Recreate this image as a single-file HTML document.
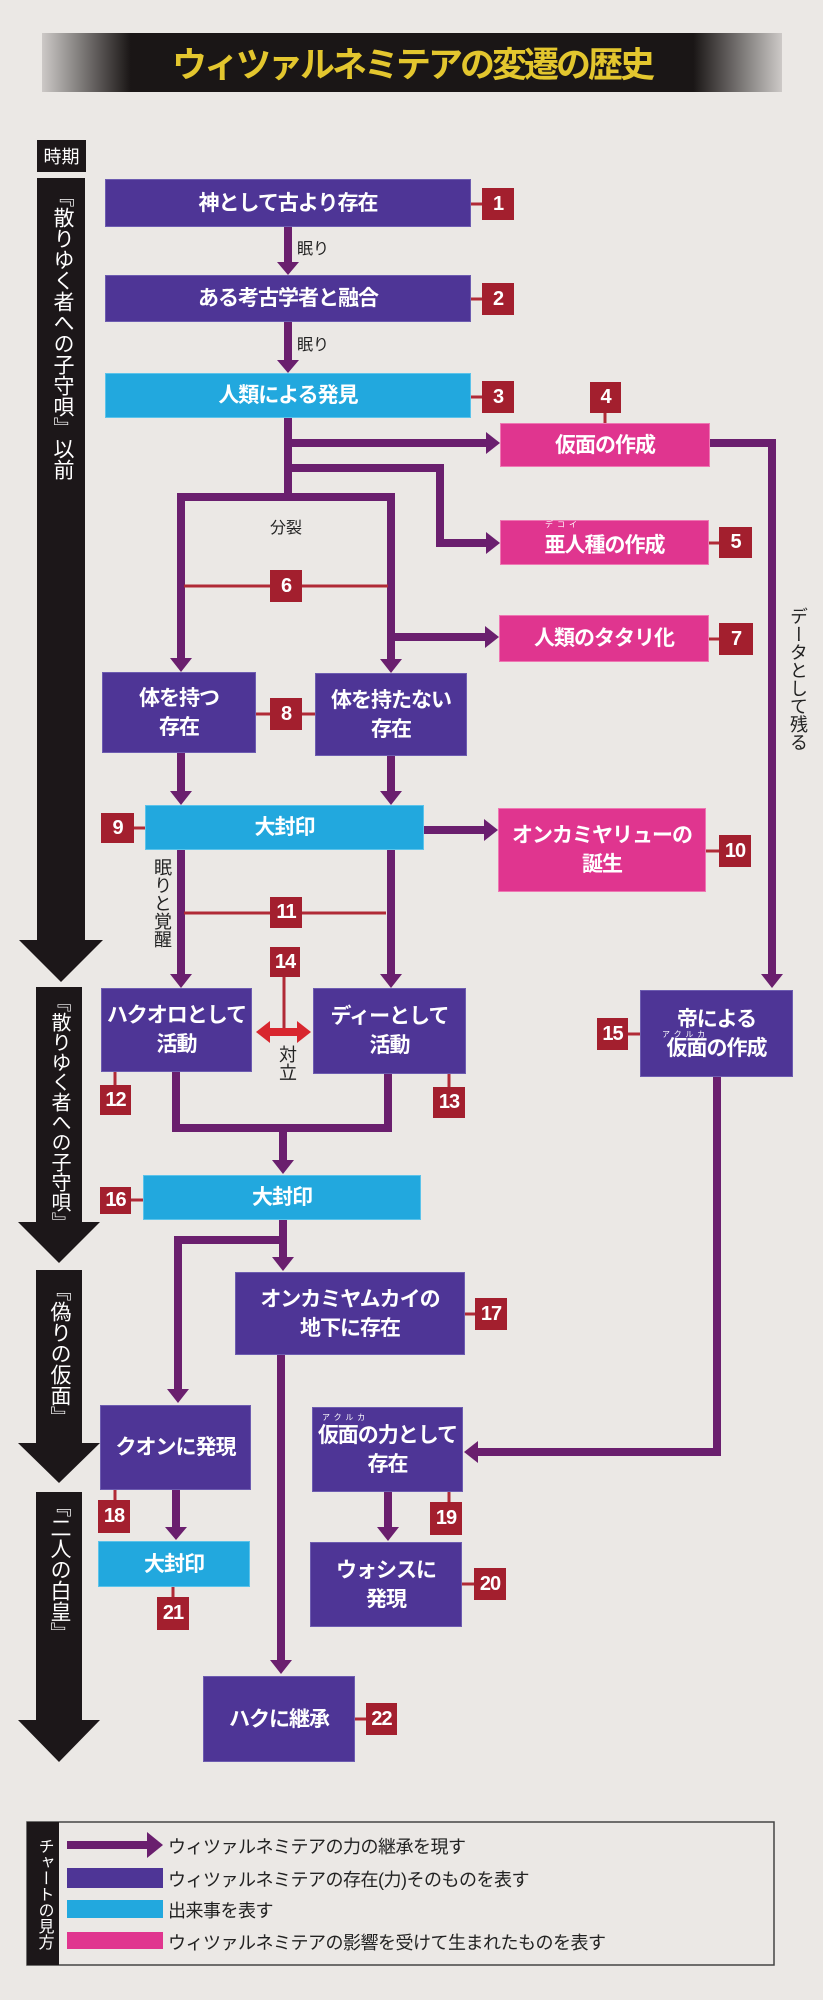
<!DOCTYPE html>
<html><head><meta charset="utf-8"><style>
body{margin:0;}
#p{position:relative;width:823px;height:2000px;background:#ebe8e5;overflow:hidden;font-family:"Liberation Sans","Noto Sans CJK JP",sans-serif;}
.b{position:absolute;display:flex;align-items:center;justify-content:center;text-align:center;color:#fff;font-weight:bold;font-size:21px;line-height:29px;letter-spacing:-1px;box-sizing:border-box;}
.pu{background:#4e3596;border:1px solid #6d5cb0;}
.cy{background:#22a8de;border:1px solid #5cc3ea;}
.pk{background:#e0358f;border:1px solid #ee77b3;}
.n{position:absolute;background:#a31f2e;color:#fff;font-weight:bold;font-size:20px;display:flex;align-items:center;justify-content:center;letter-spacing:-1px;}
.lab{position:absolute;color:#222;font-size:16px;}
.vt{writing-mode:vertical-rl;}
.bar{position:absolute;background:#1c1719;}
.bt{position:absolute;color:#fff;font-size:21px;writing-mode:vertical-rl;white-space:nowrap;line-height:46px;}
.rb{position:absolute;font-size:8px;color:#fff;letter-spacing:4px;}
</style></head><body><div id="p">
<div style="position:absolute;left:42px;top:33px;width:740px;height:59px;background:linear-gradient(90deg,rgba(30,25,25,0.15),#1a1616 12%,#1a1616 88%,rgba(30,25,25,0.15));"></div>
<div style="position:absolute;left:42px;top:33px;width:740px;height:59px;display:flex;align-items:center;justify-content:center;color:#e3c62e;font-size:35px;font-weight:bold;letter-spacing:-3px;">ウィツァルネミテアの変遷の歴史</div>

<div style="position:absolute;left:37px;top:140px;width:49px;height:32px;background:#1c1719;color:#fff;font-size:18px;display:flex;align-items:center;justify-content:center;">時期</div>

<div class="bar" style="left:37px;top:178px;width:48px;height:762px;"></div>
<div class="bar" style="left:36px;top:987px;width:46px;height:235px;"></div>
<div class="bar" style="left:36px;top:1270px;width:46px;height:173px;"></div>
<div class="bar" style="left:36px;top:1492px;width:46px;height:228px;"></div>

<svg style="position:absolute;left:0;top:0" width="823" height="2000">
<g fill="#1c1719">
<polygon points="19,940 103,940 61,982"/>
<polygon points="18,1222 100,1222 59,1263"/>
<polygon points="18,1443 100,1443 59,1483"/>
<polygon points="18,1720 100,1720 59,1762"/>
</g>
<g stroke="#6a1f6e" stroke-width="8" fill="none">
<line x1="288" y1="227" x2="288" y2="263"/>
<line x1="288" y1="322" x2="288" y2="361"/>
<line x1="288" y1="418" x2="288" y2="501"/>
<line x1="288" y1="443" x2="488" y2="443"/>
<polyline points="288,468 440,468 440,543 488,543"/>
<line x1="177" y1="497" x2="395" y2="497"/>
<line x1="181" y1="497" x2="181" y2="660"/>
<line x1="391" y1="497" x2="391" y2="661"/>
<line x1="391" y1="637" x2="487" y2="637"/>
<polyline points="710,443 772,443 772,976"/>
<line x1="181" y1="753" x2="181" y2="793"/>
<line x1="391" y1="756" x2="391" y2="793"/>
<line x1="424" y1="830" x2="486" y2="830"/>
<line x1="181" y1="850" x2="181" y2="976"/>
<line x1="391" y1="850" x2="391" y2="976"/>
<polyline points="176,1072 176,1128 388,1128 388,1074"/>
<line x1="283" y1="1128" x2="283" y2="1162"/>
<line x1="283" y1="1220" x2="283" y2="1259"/>
<polyline points="283,1240 178,1240 178,1391"/>
<polyline points="717,1077 717,1452 476,1452"/>
<line x1="281" y1="1355" x2="281" y2="1662"/>
<line x1="176" y1="1490" x2="176" y2="1529"/>
<line x1="388" y1="1492" x2="388" y2="1529"/>
</g>
<g fill="#6a1f6e">
<polygon points="277,262 299,262 288,275"/>
<polygon points="277,360 299,360 288,373"/>
<polygon points="486,432 500,443 486,454"/>
<polygon points="486,532 500,543 486,554"/>
<polygon points="170,658 192,658 181,672"/>
<polygon points="380,659 402,659 391,673"/>
<polygon points="485,626 499,637 485,648"/>
<polygon points="761,974 783,974 772,988"/>
<polygon points="170,791 192,791 181,805"/>
<polygon points="380,791 402,791 391,805"/>
<polygon points="484,819 498,830 484,841"/>
<polygon points="170,974 192,974 181,988"/>
<polygon points="380,974 402,974 391,988"/>
<polygon points="272,1160 294,1160 283,1174"/>
<polygon points="272,1257 294,1257 283,1271"/>
<polygon points="167,1389 189,1389 178,1403"/>
<polygon points="478,1441 464,1452 478,1463"/>
<polygon points="270,1660 292,1660 281,1674"/>
<polygon points="165,1527 187,1527 176,1540"/>
<polygon points="377,1527 399,1527 388,1541"/>
</g>
<g stroke="#b02a36" stroke-width="3" fill="none">
<line x1="184" y1="586" x2="388" y2="586"/>
<line x1="184" y1="913" x2="386" y2="913"/>
<line x1="284" y1="977" x2="284" y2="1032"/>
<line x1="471" y1="204" x2="482" y2="204"/>
<line x1="471" y1="299" x2="482" y2="299"/>
<line x1="471" y1="397" x2="482" y2="397"/>
<line x1="605" y1="413" x2="605" y2="423"/>
<line x1="709" y1="543" x2="719" y2="543"/>
<line x1="709" y1="639" x2="719" y2="639"/>
<line x1="256" y1="714" x2="315" y2="714"/>
<line x1="134" y1="828" x2="145" y2="828"/>
<line x1="706" y1="851" x2="719" y2="851"/>
<line x1="115" y1="1072" x2="115" y2="1085"/>
<line x1="449" y1="1074" x2="449" y2="1087"/>
<line x1="628" y1="1034" x2="640" y2="1034"/>
<line x1="131" y1="1200" x2="143" y2="1200"/>
<line x1="465" y1="1314" x2="475" y2="1314"/>
<line x1="115" y1="1490" x2="115" y2="1500"/>
<line x1="449" y1="1492" x2="449" y2="1502"/>
<line x1="173" y1="1587" x2="173" y2="1597"/>
<line x1="462" y1="1584" x2="474" y2="1584"/>
<line x1="355" y1="1719" x2="366" y2="1719"/>
</g>
<g fill="#d8262e">
<rect x="268" y="1028" width="31" height="8"/>
<polygon points="256,1032 270,1021 270,1043"/>
<polygon points="311,1032 297,1021 297,1043"/>
</g>
<g stroke="#444" stroke-width="1.5" fill="none"><rect x="27" y="1822" width="747" height="143"/></g>
<rect x="27" y="1822" width="32" height="143" fill="#1c1719"/>
<rect x="67" y="1841" width="82" height="8" fill="#6a1f6e"/>
<polygon points="147,1832 163,1845 147,1858" fill="#6a1f6e"/>
<rect x="67" y="1868" width="96" height="20" fill="#4e3596"/>
<rect x="67" y="1900" width="96" height="18" fill="#22a8de"/>
<rect x="67" y="1932" width="96" height="17" fill="#e0358f"/>
</svg>

<div class="bt" style="left:37px;top:186px;width:48px;">『散りゆく者への子守唄』以前</div>
<div class="bt" style="left:36px;top:992px;width:46px;font-size:20px;">『散りゆく者への子守唄』</div>
<div class="bt" style="left:36px;top:1280px;width:46px;">『偽りの仮面』</div>
<div class="bt" style="left:36px;top:1496px;width:46px;">『二人の白皇』</div>

<div class="b pu" style="left:105px;top:179px;width:366px;height:48px;">神として古より存在</div>
<div class="n" style="left:482px;top:188px;width:32px;height:32px;">1</div>
<div class="lab" style="left:297px;top:235px;">眠り</div>
<div class="b pu" style="left:105px;top:275px;width:366px;height:47px;">ある考古学者と融合</div>
<div class="n" style="left:482px;top:283px;width:32px;height:32px;">2</div>
<div class="lab" style="left:297px;top:331px;">眠り</div>
<div class="b cy" style="left:105px;top:373px;width:366px;height:45px;">人類による発見</div>
<div class="n" style="left:482px;top:381px;width:32px;height:32px;">3</div>
<div class="n" style="left:590px;top:382px;width:31px;height:31px;">4</div>
<div class="b pk" style="left:500px;top:423px;width:210px;height:44px;">仮面の作成</div>
<div class="lab" style="left:270px;top:514px;">分裂</div>
<div class="b pk" style="left:500px;top:520px;width:209px;height:45px;padding-top:6px;">亜人種の作成</div>
<div class="rb" style="left:545px;top:519px;">デコイ</div>
<div class="n" style="left:719px;top:527px;width:33px;height:31px;">5</div>
<div class="n" style="left:270px;top:570px;width:32px;height:32px;">6</div>
<div class="b pk" style="left:499px;top:615px;width:210px;height:47px;">人類のタタリ化</div>
<div class="n" style="left:719px;top:623px;width:34px;height:32px;">7</div>
<div class="lab vt" style="left:785px;top:607px;font-size:18px;">データとして残る</div>
<div class="b pu" style="left:102px;top:672px;width:154px;height:81px;">体を持つ<br>存在</div>
<div class="b pu" style="left:315px;top:673px;width:152px;height:83px;">体を持たない<br>存在</div>
<div class="n" style="left:270px;top:698px;width:32px;height:32px;">8</div>
<div class="n" style="left:101px;top:813px;width:33px;height:30px;">9</div>
<div class="b cy" style="left:145px;top:805px;width:279px;height:45px;">大封印</div>
<div class="b pk" style="left:498px;top:808px;width:208px;height:84px;">オンカミヤリューの<br>誕生</div>
<div class="n" style="left:719px;top:835px;width:32px;height:32px;">10</div>
<div class="lab vt" style="left:149px;top:858px;font-size:18px;">眠りと覚醒</div>
<div class="n" style="left:270px;top:897px;width:32px;height:31px;">11</div>
<div class="n" style="left:270px;top:947px;width:30px;height:30px;">14</div>
<div class="b pu" style="left:101px;top:988px;width:151px;height:84px;">ハクオロとして<br>活動</div>
<div class="b pu" style="left:313px;top:988px;width:153px;height:86px;">ディーとして<br>活動</div>
<div class="lab vt" style="left:274px;top:1045px;font-size:18px;">対立</div>
<div class="b pu" style="left:640px;top:990px;width:153px;height:87px;">帝による<br>仮面の作成</div>
<div class="rb" style="left:662px;top:1029px;">アクルカ</div>
<div class="n" style="left:597px;top:1018px;width:31px;height:32px;">15</div>
<div class="n" style="left:100px;top:1085px;width:31px;height:30px;">12</div>
<div class="n" style="left:433px;top:1087px;width:32px;height:31px;">13</div>
<div class="n" style="left:100px;top:1187px;width:31px;height:27px;">16</div>
<div class="b cy" style="left:143px;top:1175px;width:278px;height:45px;">大封印</div>
<div class="b pu" style="left:235px;top:1272px;width:230px;height:83px;">オンカミヤムカイの<br>地下に存在</div>
<div class="n" style="left:475px;top:1298px;width:32px;height:32px;">17</div>
<div class="b pu" style="left:100px;top:1405px;width:151px;height:85px;">クオンに発現</div>
<div class="b pu" style="left:312px;top:1407px;width:151px;height:85px;">仮面の力として<br>存在</div>
<div class="rb" style="left:322px;top:1412px;">アクルカ</div>
<div class="n" style="left:98px;top:1500px;width:32px;height:33px;">18</div>
<div class="n" style="left:430px;top:1502px;width:32px;height:33px;">19</div>
<div class="b cy" style="left:98px;top:1541px;width:152px;height:46px;">大封印</div>
<div class="b pu" style="left:310px;top:1542px;width:152px;height:85px;">ウォシスに<br>発現</div>
<div class="n" style="left:474px;top:1568px;width:32px;height:32px;">20</div>
<div class="n" style="left:157px;top:1597px;width:32px;height:33px;">21</div>
<div class="b pu" style="left:203px;top:1676px;width:152px;height:86px;">ハクに継承</div>
<div class="n" style="left:366px;top:1703px;width:31px;height:32px;">22</div>

<div style="position:absolute;left:28px;top:1826px;width:31px;height:136px;writing-mode:vertical-rl;color:#fff;font-size:16px;display:flex;align-items:center;justify-content:center;">チャートの見方</div>
<div class="lab" style="left:168px;top:1833px;font-size:18px;letter-spacing:-0.5px;">ウィツァルネミテアの力の継承を現す</div>
<div class="lab" style="left:168px;top:1866px;font-size:18px;letter-spacing:-0.5px;">ウィツァルネミテアの存在(力)そのものを表す</div>
<div class="lab" style="left:168px;top:1897px;font-size:18px;letter-spacing:-0.5px;">出来事を表す</div>
<div class="lab" style="left:168px;top:1929px;font-size:18px;letter-spacing:-0.5px;">ウィツァルネミテアの影響を受けて生まれたものを表す</div>
</div></body></html>
